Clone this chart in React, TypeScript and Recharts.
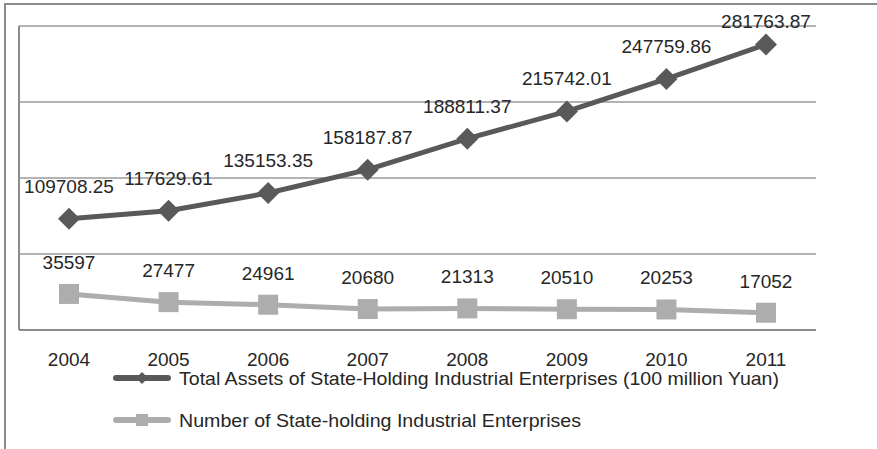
import { LineChart, Line, XAxis, YAxis, CartesianGrid, Legend, LabelList } from 'recharts';

const years = ['2004', '2005', '2006', '2007', '2008', '2009', '2010', '2011'];
const totalAssets = [109708.25, 117629.61, 135153.35, 158187.87, 188811.37, 215742.01, 247759.86, 281763.87];
const enterpriseCount = [35597, 27477, 24961, 20680, 21313, 20510, 20253, 17052];
const yTicks = [0, 75000, 150000, 225000, 300000];

const assetsName = 'Total Assets of State-Holding Industrial Enterprises (100 million Yuan)';
const countName = 'Number of State-holding Industrial Enterprises';

const data = years.map((year, i) => ({
  year,
  assets: totalAssets[i],
  count: enterpriseCount[i],
}));

const FONT = "'Liberation Sans', Arial, sans-serif";
const DARK = '#595959';
const LIGHT = '#adadad';

const Diamond = (props: any) => {
  const { cx, cy } = props;
  if (cx == null || cy == null) return null;
  const r = 11;
  return <polygon points={`${cx},${cy - r} ${cx + r},${cy} ${cx},${cy + r} ${cx - r},${cy}`} fill={DARK} />;
};

const Square = (props: any) => {
  const { cx, cy } = props;
  if (cx == null || cy == null) return null;
  return <rect x={cx - 10} y={cy - 10} width={20} height={20} fill={LIGHT} />;
};

const assetLabel = (props: any) => {
  const { x, y, value } = props;
  const baseline = Math.max(y - 26, 28);
  return (
    <text x={x} y={baseline} textAnchor="middle" fontSize={19} fontFamily={FONT} fill="#262626">
      {Number(value).toFixed(2)}
    </text>
  );
};

const countLabel = (props: any) => {
  const { x, y, value } = props;
  return (
    <text x={x} y={y - 25} textAnchor="middle" fontSize={19} fontFamily={FONT} fill="#262626">
      {value}
    </text>
  );
};

const YearTick = (props: any) => {
  const { x, y, payload } = props;
  return (
    <text x={x} y={y + 36} textAnchor="middle" fontSize={19} fontFamily={FONT} fill="#262626">
      {payload.value}
    </text>
  );
};

const EmptyTick = () => <g />;

const ChartLegend = () => (
  <svg width={877} height={90}>
    <line x1={116} y1={28} x2={168} y2={28} stroke={DARK} strokeWidth={6} strokeLinecap="round" />
    <polygon points="142,22 148,28 142,34 136,28" fill={DARK} />
    <text x={179} y={35} fontSize={19} fontFamily={FONT} fill="#262626" textLength={600} lengthAdjust="spacingAndGlyphs">
      {assetsName}
    </text>
    <line x1={116} y1={70} x2={168} y2={70} stroke={LIGHT} strokeWidth={6} strokeLinecap="round" />
    <rect x={136} y={64} width={12} height={12} fill={LIGHT} />
    <text x={179} y={77} fontSize={19} fontFamily={FONT} fill="#262626" textLength={402} lengthAdjust="spacingAndGlyphs">
      {countName}
    </text>
  </svg>
);

export default function App() {
  return (
    <div style={{ position: 'absolute', left: 0, top: 0, width: 877, height: 449, overflow: 'hidden', background: '#fff' }}>
      <div
        style={{
          position: 'absolute',
          left: 4,
          top: 3,
          width: 900,
          height: 460,
          borderTop: '2px solid #8c8c8c',
          borderLeft: '2px solid #8c8c8c',
        }}
      />
      <LineChart width={877} height={449} data={data} margin={{ top: 26, right: 61, bottom: 89, left: 17 }}>
        <CartesianGrid vertical={false} stroke="#9a9a9a" strokeWidth={1.5} />
        <XAxis
          dataKey="year"
          height={30}
          padding={{ left: 50, right: 50 }}
          tickLine={false}
          tickSize={0}
          tickMargin={0}
          axisLine={{ stroke: '#8c8c8c', strokeWidth: 2 }}
          tick={<YearTick />}
          interval={0}
        />
        <YAxis
          width={2}
          domain={[0, 300000]}
          ticks={yTicks}
          interval={0}
          tick={<EmptyTick />}
          tickLine={false}
          axisLine={{ stroke: '#8c8c8c', strokeWidth: 2 }}
        />
        <Legend
          layout="vertical"
          align="center"
          verticalAlign="middle"
          content={<ChartLegend />}
          wrapperStyle={{ left: 0, top: 350, width: 877, height: 90 }}
        />
        <Line
          dataKey="count"
          name={countName}
          stroke={LIGHT}
          strokeWidth={5}
          dot={<Square />}
          activeDot={false}
          isAnimationActive={false}
        >
          <LabelList dataKey="count" content={countLabel} />
        </Line>
        <Line
          dataKey="assets"
          name={assetsName}
          stroke={DARK}
          strokeWidth={5}
          dot={<Diamond />}
          activeDot={false}
          isAnimationActive={false}
        >
          <LabelList dataKey="assets" content={assetLabel} />
        </Line>
      </LineChart>
    </div>
  );
}
